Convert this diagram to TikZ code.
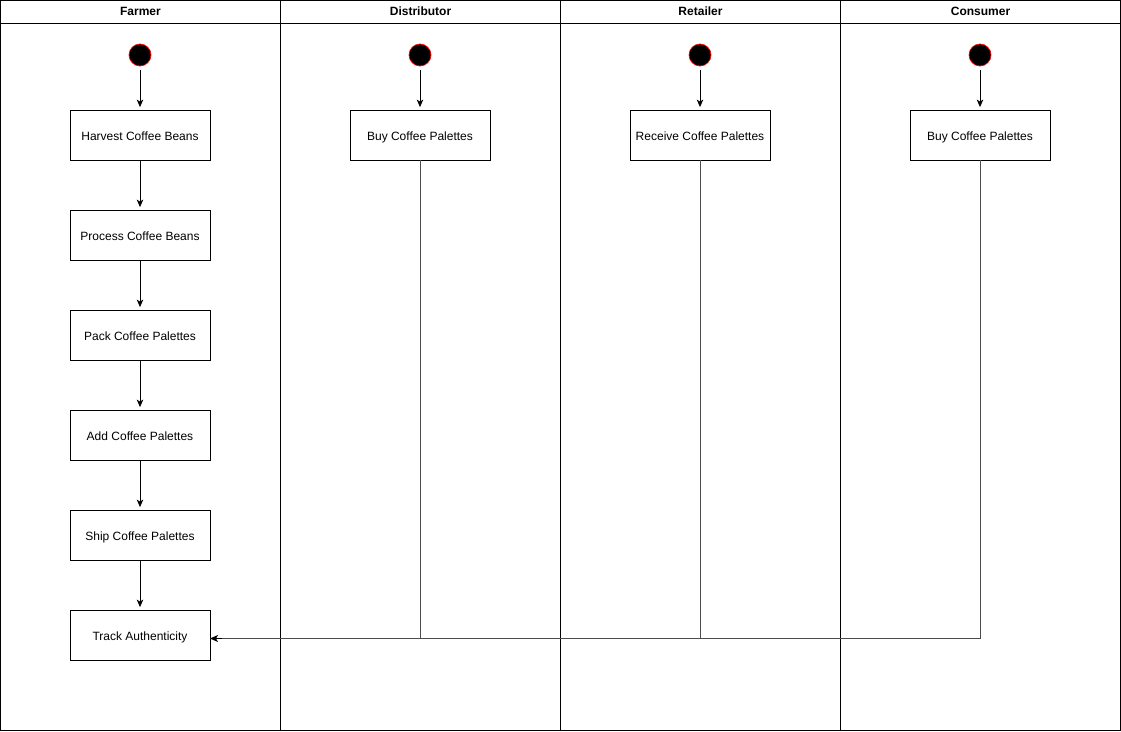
\documentclass[tikz,border=0pt]{standalone}
\usepackage{fontspec}
\setmainfont{Liberation Sans}
\usetikzlibrary{arrows.meta}
\begin{document}
\begin{tikzpicture}[x=1pt,y=-1pt,
  lane/.style={draw=black,line width=1pt},
  lanehead/.style={font=\fontsize{12}{14}\selectfont\bfseries,anchor=center},
  act/.style={draw=black,line width=0.8pt,fill=white,minimum width=140pt,minimum height=50pt,
    inner sep=0pt,text height=12pt,text depth=0.6pt,font=\fontsize{12}{14}\selectfont},
  start/.style={circle,draw=red,fill=black,line width=0.7pt,minimum size=22pt,inner sep=0pt},
  flow/.style={draw=black,line width=0.8pt,shorten >=2.5pt,-{Stealth[length=7.5pt,width=6.5pt,inset=2pt]}},
  back/.style={draw=black!70,line width=0.9pt}
]
\useasboundingbox (0,0) rectangle (1121,731);
% swimlanes
\foreach \i/\name in {0/Farmer,1/Distributor,2/Retailer,3/Consumer}{
  \draw[lane] ({0.5+280*\i},0.5) rectangle ({280.5+280*\i},730.5);
  \draw[lane] ({0.5+280*\i},23.5) -- ({280.5+280*\i},23.5);
  \node[lanehead] at ({140.5+280*\i},11) {\name};
}
% start points
\node[start] (s1) at (140,55) {};
\node[start] (s2) at (420,55) {};
\node[start] (s3) at (700,55) {};
\node[start] (s4) at (980,55) {};
% activities
\node[act] (harvest) at (140,135) {Harvest Coffee Beans};
\node[act] (process) at (140,235) {Process Coffee Beans};
\node[act] (pack) at (140,335) {Pack Coffee Palettes};
\node[act] (add) at (140,435) {Add Coffee Palettes};
\node[act] (ship) at (140,535) {Ship Coffee Palettes};
\node[act] (track) at (140,635) {Track Authenticity};
\node[act] (dbuy) at (420,135) {Buy Coffee Palettes};
\node[act] (rrecv) at (700,135) {Receive Coffee Palettes};
\node[act] (cbuy) at (980,135) {Buy Coffee Palettes};
\coordinate (join) at (210,638.5);
% flows
\foreach \s/\t in {s1/harvest,s2/dbuy,s3/rrecv,s4/cbuy}
  \draw[flow] ([yshift=-4pt]\s.south) -- (\t);
\draw[flow] (harvest) -- (process);
\draw[flow] (process) -- (pack);
\draw[flow] (pack) -- (add);
\draw[flow] (add) -- (ship);
\draw[flow] (ship) -- (track);
\draw[back] (dbuy.south) |- (join);
\draw[back] (rrecv.south) |- (join);
\draw[back] (cbuy.south) |- (join);
\draw[draw=black,line width=1pt,-{Stealth[length=8pt,width=7pt,inset=2pt]}] ([xshift=12pt]join) -- (join);
\end{tikzpicture}
\end{document}
